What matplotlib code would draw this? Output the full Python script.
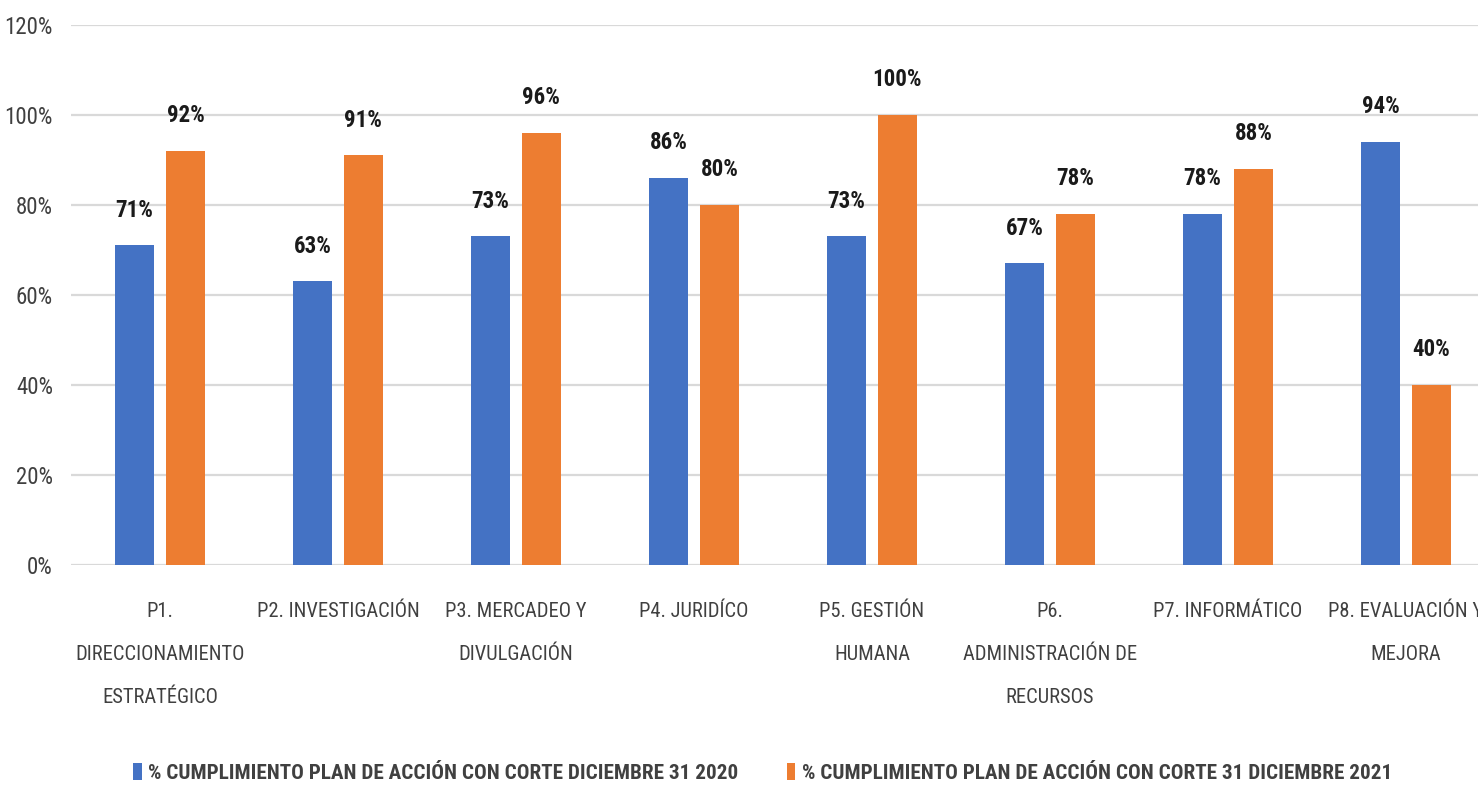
import matplotlib
matplotlib.use("Agg")
import matplotlib.pyplot as plt
import numpy as np
from matplotlib import font_manager

# Datos
procesos = ["P1.\nDIRECCIONAMIENTO\nESTRATÉGICO", "P2. INVESTIGACIÓN", "P3. MERCADEO Y\nDIVULGACIÓN",
            "P4. JURIDÍCO", "P5. GESTIÓN\nHUMANA", "P6.\nADMINISTRACIÓN DE\nRECURSOS",
            "P7. INFORMÁTICO", "P8. EVALUACIÓN Y\nMEJORA"]
cumpl_2020 = [0.71, 0.63, 0.73, 0.86, 0.73, 0.67, 0.78, 0.94]
cumpl_2021 = [0.92, 0.91, 0.96, 0.80, 1.00, 0.78, 0.88, 0.40]
serie_2020 = "% CUMPLIMIENTO PLAN DE ACCIÓN CON CORTE DICIEMBRE 31 2020"
serie_2021 = "% CUMPLIMIENTO PLAN DE ACCIÓN CON CORTE 31 DICIEMBRE 2021"

# buscar una fuente estrecha parecida a la original
names = {f.name for f in font_manager.fontManager.ttflist}
fam = "DejaVu Sans"
for cand in ["Roboto Condensed", "Liberation Sans Narrow", "Open Sans Condensed", "Noto Sans Condensed",
             "DejaVu Sans Condensed", "Liberation Sans"]:
    if cand in names:
        fam = cand
        break
plt.rcParams['font.family'] = [fam, 'DejaVu Sans']

azul = "#4472C4"
naranja = "#ED7D31"
gris = "#404040"

fig = plt.figure(figsize=(14.78, 7.86), dpi=100)
ax = fig.add_axes([0.048, 0.2812, 0.9635, 0.6870])

x = np.arange(len(procesos))
w = 0.22
off = 0.143
b1 = ax.bar(x - off, cumpl_2020, w, color=azul, label=serie_2020, zorder=3)
b2 = ax.bar(x + off, cumpl_2021, w, color=naranja, label=serie_2021, zorder=3)

for bars in (b1, b2):
    for r in bars:
        ax.annotate("{:.0f}%".format(r.get_height() * 100),
                    (r.get_x() + r.get_width() / 2, r.get_height()),
                    xytext=(0, 17), textcoords="offset points",
                    ha="center", va="bottom", fontsize=16.5, fontweight="bold", color="#1a1a1a")

ax.set_xlim(-0.5, len(procesos) - 0.5)
ax.set_ylim(0, 1.2)
ticks = np.arange(0, 1.21, 0.2)
ax.set_yticks(ticks)
ax.set_yticklabels(["{:.0f}%".format(v * 100) for v in ticks], fontsize=16.5)
ax.set_xticks(x)
ax.set_xticklabels(procesos, linespacing=2.6, fontsize=14.8)
ax.tick_params(axis="both", length=0, labelcolor=gris)
ax.tick_params(axis="x", pad=27)
ax.tick_params(axis="y", pad=13)
ax.yaxis.grid(True, color="#D9D9D9", linewidth=1.6, zorder=0)
for s in ax.spines.values():
    s.set_visible(False)

leg = fig.legend(handles=[b1, b2], loc="center", bbox_to_anchor=(0.516, 0.017), ncol=2, frameon=False,
                 handlelength=0.4, handleheight=0.9, handletextpad=0.3, columnspacing=2.3,
                 prop={"weight": "bold", "size": 15.2})
for t in leg.get_texts():
    t.set_color(gris)

fig.savefig("out.png", dpi=100)
